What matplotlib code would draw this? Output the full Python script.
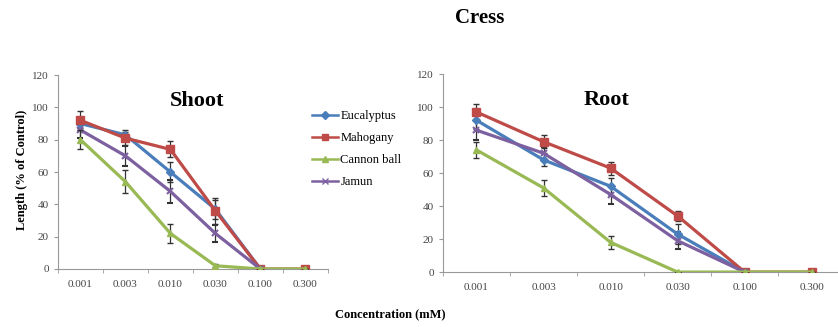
import matplotlib
matplotlib.use("Agg")
import matplotlib.pyplot as plt
import numpy as np
from matplotlib.lines import Line2D

plt.rcParams['font.family'] = ['Liberation Serif', 'DejaVu Serif']

concentrations = ["0.001", "0.003", "0.010", "0.030", "0.100", "0.300"]
series_names = ["Eucalyptus", "Mahogany", "Cannon ball", "Jamun"]

shoot_eucalyptus = [90, 83, 60, 37, 0, np.nan]
shoot_mahogany = [92, 81, 74, 36, 0, 0]
shoot_cannon = [80, 54, 22, 2, 0, 0]
shoot_jamun = [86, 70, 48, 22, 0, np.nan]
shoot_err_eucalyptus = [3, 3, 6, 6, 0, 0]
shoot_err_mahogany = [6, 4, 5, 8, 0, 0]
shoot_err_cannon = [6, 7, 6, 1, 0, 0]
shoot_err_jamun = [5, 6, 7, 5, 0, 0]

root_eucalyptus = [92, 68, 52, 23, 0, np.nan]
root_mahogany = [97, 79, 63, 34, 0, 0]
root_cannon = [74, 51, 18, 0, 0, 0]
root_jamun = [86, 72, 47, 19, 0, np.nan]
root_err_eucalyptus = [5, 4, 5, 6, 0, 0]
root_err_mahogany = [5, 4, 4, 3, 0, 0]
root_err_cannon = [5, 5, 4, 0, 0, 0]
root_err_jamun = [6, 4, 6, 5, 0, 0]

colors = ["#4A7EBB", "#BE4B48", "#98B954", "#7D60A0"]
markers = ["D", "s", "^", "x"]
msizes = [4.5, 6, 5, 5]

fig = plt.figure(figsize=(8.38, 3.27), dpi=100)
axL = fig.add_axes([0.0692, 0.1774, 0.322, 0.593])
axR = fig.add_axes([0.5286, 0.168, 0.48, 0.6055])

def draw(ax, vals, errs):
    x = np.arange(len(concentrations))
    for i, (v, e) in enumerate(zip(vals, errs)):
        ax.errorbar(x, v, yerr=e, color=colors[i], marker=markers[i], ms=msizes[i],
                    mew=1.5 if markers[i] == "x" else 1,
                    lw=2.3, elinewidth=0.9, capsize=2, ecolor="#333333",
                    label=series_names[i], zorder=3 + (1 if i == 2 else 0))
    ax.set_xlim(-0.5, len(concentrations) - 0.5)
    ax.set_ylim(0, 120)
    ax.set_yticks(range(0, 121, 20))
    ax.set_xticks(x)
    ax.set_xticklabels(concentrations)
    ax.set_xticks(np.arange(-0.5, len(concentrations), 1), minor=True)
    for s in ["top", "right"]:
        ax.spines[s].set_visible(False)
    for s in ["left", "bottom"]:
        ax.spines[s].set_color("#999999")
        ax.spines[s].set_linewidth(0.8)
    ax.tick_params(axis="both", which="major", labelsize=8, colors="#999999",
                   labelcolor="#444444", length=3)
    ax.tick_params(axis="x", which="major", length=0, pad=8)
    ax.tick_params(axis="x", which="minor", length=3, colors="#999999")

draw(axL, [shoot_eucalyptus, shoot_mahogany, shoot_cannon, shoot_jamun],
     [shoot_err_eucalyptus, shoot_err_mahogany, shoot_err_cannon, shoot_err_jamun])
draw(axR, [root_eucalyptus, root_mahogany, root_cannon, root_jamun],
     [root_err_eucalyptus, root_err_mahogany, root_err_cannon, root_err_jamun])

fig.text(197 / 838, 1 - 101 / 327, "Shoot", ha="center", va="center",
         fontsize=16, fontweight="bold")
fig.text(607 / 838, 1 - 100 / 327, "Root", ha="center", va="center",
         fontsize=16, fontweight="bold")
fig.text(22 / 838, 1 - 170 / 327, "Length (% of Control)", rotation=90,
         ha="center", va="center", fontsize=9, fontweight="bold")

handles = [Line2D([], [], color=colors[i], marker=markers[i], ms=msizes[i] * 0.8, lw=1.8)
           for i in range(4)]
fig.legend(handles, series_names, loc="upper left", bbox_to_anchor=(0.372, 0.663),
           frameon=False, fontsize=9, handlelength=2.1, handletextpad=0.2,
           labelspacing=0.8, borderaxespad=0, borderpad=0)

fig.text(480 / 838, 1 - 18 / 327, "Cress", ha="center", va="center", fontsize=15,
         fontweight="bold")
fig.text(390 / 838, 1 - 314 / 327, "Concentration (mM)", ha="center", va="center",
         fontsize=9, fontweight="bold")

fig.savefig("out.png", dpi=100)
